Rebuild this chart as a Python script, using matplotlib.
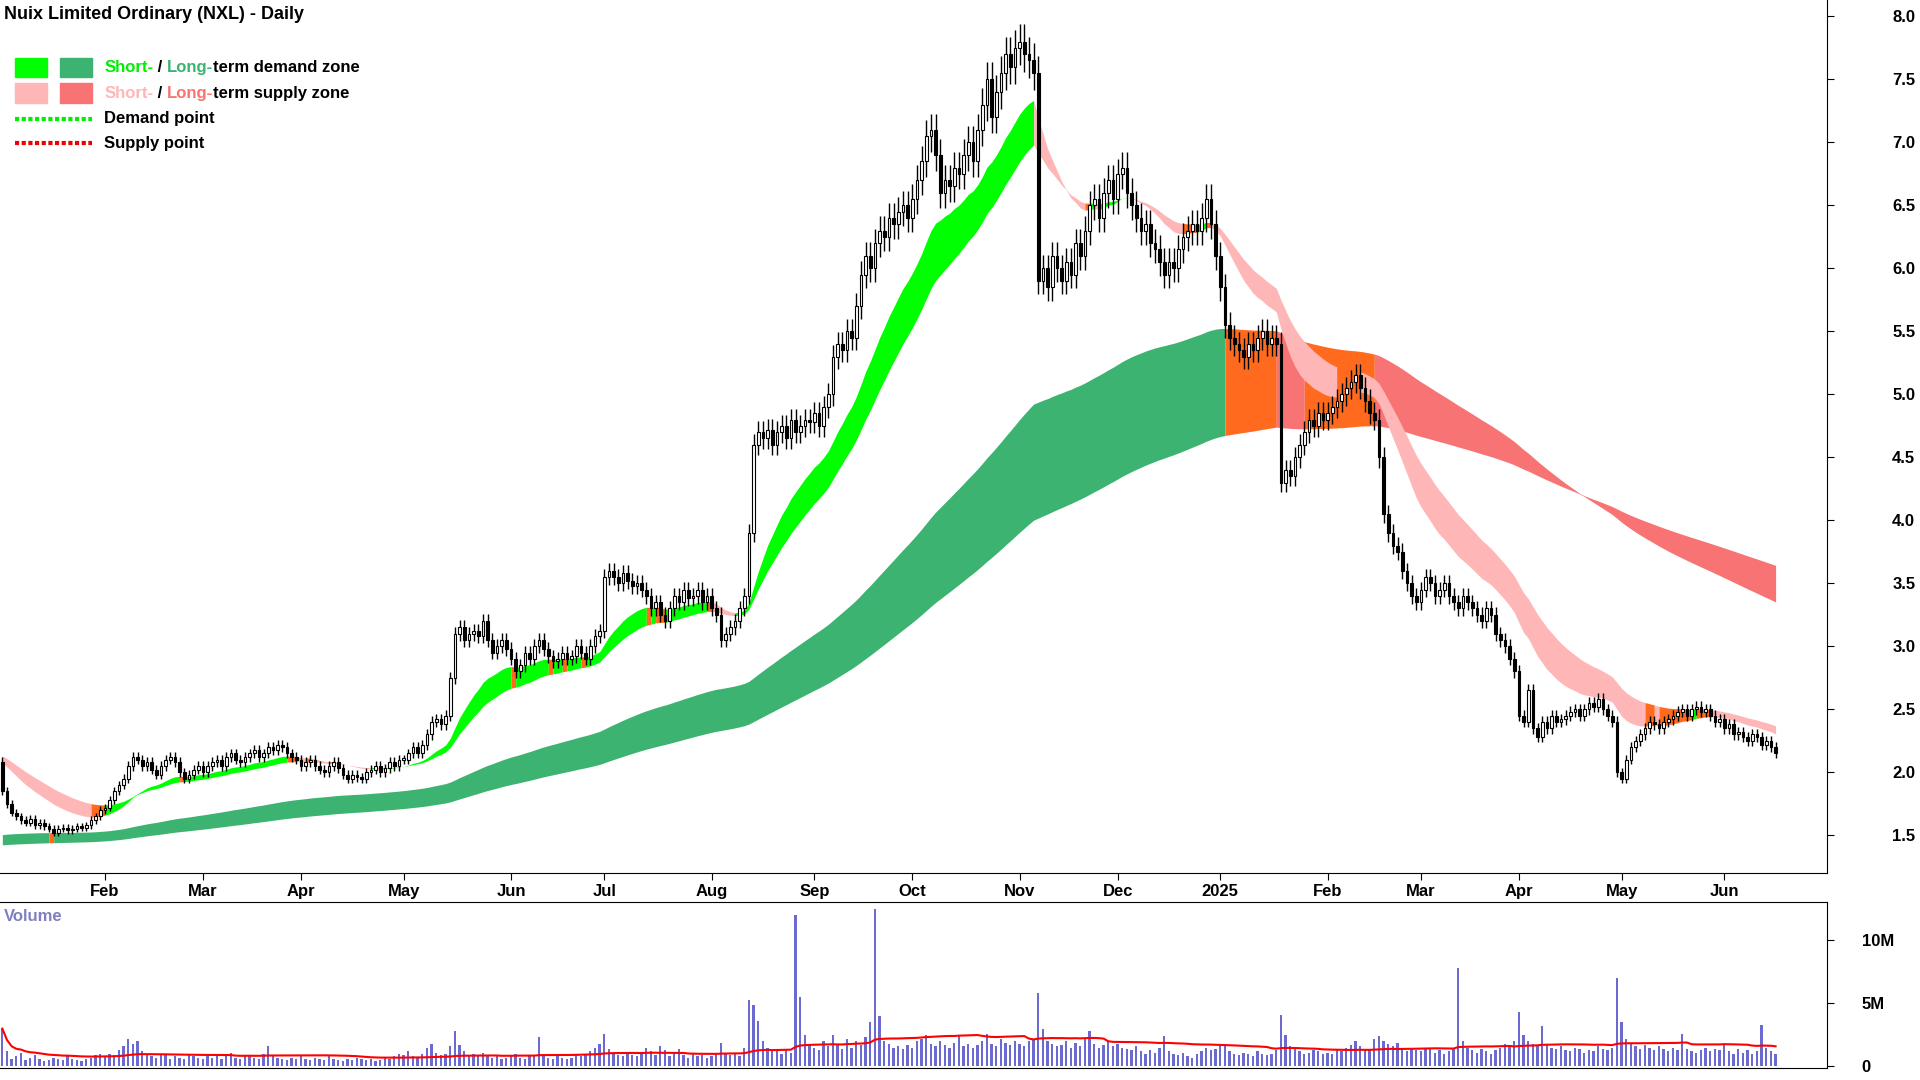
import matplotlib
matplotlib.use("Agg")
import matplotlib.pyplot as plt
import numpy as np
import pandas as pd
from matplotlib.patches import Rectangle
from matplotlib.lines import Line2D

plt.rcParams['font.family'] = ['Liberation Sans', 'DejaVu Sans']

title = "Nuix Limited Ordinary (NXL) - Daily"
closes = [
 # Jan 2024
 1.85,1.75,1.68,1.65,1.62,1.60,1.63,1.58,1.60,1.57,1.55,1.52,1.55,1.56,1.54,1.55,1.57,1.56,1.58,1.62,1.65,1.70,
 # Feb
 1.72,1.78,1.85,1.90,1.95,2.05,2.12,2.10,2.05,2.08,2.02,1.98,2.05,2.10,2.12,2.08,2.00,1.95,1.98,2.02,2.05,
 # Mar
 2.00,2.05,2.08,2.10,2.05,2.12,2.15,2.10,2.08,2.12,2.15,2.18,2.12,2.15,2.20,2.18,2.22,2.20,2.15,2.12,2.10,
 # Apr
 2.05,2.08,2.10,2.05,2.02,2.00,2.05,2.08,2.03,1.98,1.95,1.98,1.96,1.95,2.00,2.02,2.05,2.00,2.03,2.08,2.05,2.10,
 # May
 2.10,2.15,2.20,2.15,2.22,2.30,2.40,2.42,2.38,2.45,2.75,3.10,3.15,3.05,3.10,3.12,3.08,3.20,3.05,2.95,3.00,3.05,2.98,
 # Jun
 2.90,2.80,2.85,2.95,2.90,3.00,3.05,2.98,2.92,2.88,2.90,2.95,2.90,2.92,3.00,2.95,2.90,3.00,3.08,3.12,
 # Jul
 3.55,3.60,3.55,3.50,3.58,3.52,3.48,3.50,3.45,3.40,3.30,3.35,3.25,3.20,3.30,3.40,3.35,3.45,3.38,3.40,3.45,3.35,3.40,
 # Aug
 3.30,3.25,3.05,3.10,3.15,3.20,3.30,3.40,3.90,4.60,4.70,4.65,4.72,4.60,4.70,4.75,4.65,4.80,4.70,4.75,4.80,4.78,
 # Sep
 4.85,4.75,4.90,5.00,5.30,5.40,5.35,5.50,5.45,5.70,5.95,6.10,6.00,6.20,6.30,6.25,6.40,6.35,6.45,6.50,6.40,
 # Oct
 6.55,6.70,6.85,7.05,7.10,6.90,6.60,6.70,6.65,6.80,6.75,6.90,7.00,6.85,7.10,7.30,7.50,7.20,7.40,7.55,7.70,7.60,7.75,
 # Nov
 7.80,7.70,7.65,7.55,5.90,6.00,5.85,6.10,6.00,5.90,6.05,5.95,6.20,6.10,6.30,6.50,6.55,6.40,6.60,6.70,6.55,
 # Dec
 6.75,6.80,6.60,6.50,6.40,6.30,6.35,6.20,6.15,6.05,5.95,6.05,6.00,6.15,6.25,6.30,6.35,6.30,6.40,6.55,6.35,6.10,
 # Jan 2025
 5.85,5.55,5.45,5.40,5.35,5.30,5.40,5.35,5.45,5.50,5.40,5.45,5.40,4.30,4.40,4.35,4.50,4.60,4.70,4.80,4.75,4.85,4.80,
 # Feb
 4.85,4.90,4.95,5.00,5.05,5.10,5.15,5.05,4.95,4.85,4.80,4.50,4.05,3.90,3.80,3.75,3.60,3.50,3.40,3.35,
 # Mar
 3.45,3.55,3.50,3.40,3.45,3.50,3.40,3.35,3.30,3.40,3.35,3.30,3.25,3.20,3.30,3.25,3.10,3.05,3.00,2.90,2.80,
 # Apr
 2.45,2.40,2.65,2.35,2.28,2.40,2.35,2.45,2.40,2.42,2.45,2.48,2.50,2.45,2.50,2.55,2.52,2.58,2.50,2.45,2.40,2.00,
 # May
 1.95,2.10,2.20,2.25,2.30,2.35,2.40,2.38,2.35,2.40,2.42,2.45,2.48,2.50,2.45,2.50,2.52,2.48,2.50,2.45,2.40,2.42,
 # Jun
 2.35,2.38,2.30,2.32,2.28,2.25,2.30,2.28,2.22,2.25,2.20,2.15,
]
first_open = 2.08
volume_m = [
 3.0,1.2,0.6,0.8,1.1,0.5,0.7,0.9,0.6,0.4,0.5,0.7,0.6,0.5,0.8,0.6,0.5,0.4,0.6,0.7,0.9,1.0,
 0.8,1.0,0.9,1.3,1.6,2.2,1.8,2.0,1.2,0.9,0.8,0.7,1.0,0.9,0.6,0.8,0.7,0.6,0.9,0.8,0.7,
 0.6,0.8,0.7,0.9,0.6,0.8,1.1,0.7,0.6,0.9,0.8,0.7,0.6,1.0,1.6,0.8,0.7,0.6,0.5,0.7,0.6,
 0.9,0.6,0.5,0.7,0.6,0.5,0.8,0.6,0.5,0.4,0.6,0.5,0.7,0.6,0.5,0.6,0.4,0.5,0.7,0.6,0.8,1.0,
 0.9,1.2,0.8,0.7,1.0,1.5,1.8,1.1,0.9,1.0,1.6,2.8,1.7,1.2,0.9,1.0,0.8,1.1,0.9,0.7,0.8,0.6,0.7,
 0.8,1.0,0.7,0.6,0.9,0.8,2.3,0.9,0.7,0.6,0.8,0.7,0.6,0.7,0.9,0.8,1.0,1.2,1.5,1.8,
 2.6,1.4,1.0,0.9,0.8,1.1,0.9,0.8,1.0,1.5,1.2,0.9,1.6,1.3,0.8,1.0,1.4,0.9,0.7,1.0,0.8,0.9,0.7,
 0.8,1.0,1.9,1.1,0.9,1.0,0.8,1.5,5.3,4.9,3.6,2.0,1.5,1.2,1.4,1.0,1.3,1.1,12.0,5.5,2.5,1.8,
 1.5,1.3,2.0,1.6,2.5,1.8,1.4,2.2,1.5,2.0,1.7,2.3,3.5,12.5,4.0,2.0,1.8,1.5,1.6,1.4,1.7,
 1.5,2.0,2.2,2.5,1.8,1.6,2.0,1.7,1.5,1.9,2.4,1.6,1.8,1.5,1.7,2.0,2.6,1.8,1.6,2.2,1.9,1.7,2.0,
 1.8,1.6,2.0,2.2,5.8,3.0,2.0,1.8,1.6,1.7,2.0,1.5,1.9,1.6,2.2,2.8,1.8,1.5,1.7,2.0,1.6,
 1.8,1.5,1.4,1.3,1.6,1.2,1.0,1.3,1.1,1.5,2.4,1.2,1.0,0.9,1.1,0.8,0.7,1.0,1.2,1.5,1.3,1.4,
 1.6,1.8,1.2,1.0,0.9,1.1,1.0,0.8,1.2,1.0,0.9,1.0,1.3,4.1,2.5,1.6,1.4,1.2,1.0,1.1,1.3,1.2,1.0,
 1.1,1.0,1.3,1.2,1.5,1.7,2.0,1.6,1.4,1.3,2.2,2.4,2.0,1.8,1.6,1.9,1.4,1.2,1.5,1.3,
 1.2,1.5,1.4,1.1,1.3,1.0,1.2,1.4,7.8,2.0,1.5,1.3,1.1,1.4,1.2,1.0,1.3,1.5,1.8,1.6,2.0,
 4.3,2.5,2.0,1.8,1.6,3.2,1.7,1.5,1.4,1.6,1.3,1.2,1.5,1.4,1.1,1.3,1.2,1.6,1.4,1.3,1.5,7.0,
 3.5,2.2,1.8,1.6,1.4,1.7,1.5,1.3,1.6,1.4,1.2,1.5,1.3,2.6,1.4,1.2,1.1,1.3,1.5,1.2,1.4,1.3,
 1.8,1.2,1.0,1.4,1.1,1.3,1.0,1.2,3.3,1.5,1.2,1.0,
]
price_ticks = [1.5,2.0,2.5,3.0,3.5,4.0,4.5,5.0,5.5,6.0,6.5,7.0,7.5,8.0]
vol_ticks = [0, 5, 10]
vol_tick_labels = ["0", "5M", "10M"]

n = len(closes)
volume_m = (volume_m + [1.0]*n)[:n]
dates = pd.bdate_range("2024-01-02", periods=n)
c = np.array(closes)
o = np.concatenate([[first_open], c[:-1]])
hi = np.maximum(o, c) * 1.018
lo = np.minimum(o, c) * 0.982
x = np.arange(n)

def ema(span, seed):
    vals = []
    prev = seed
    a = 2/(span+1)
    for v in c:
        prev = a*v + (1-a)*prev
        vals.append(prev)
    return np.array(vals)

st1, st2 = ema(19, 2.1), ema(32, 2.15)
lt1, lt2 = ema(135, 1.5), ema(230, 1.42)

W, H = 1568, 882
fig = plt.figure(figsize=(19.2, 10.8), dpi=100)
ax = fig.add_axes([0, 1-713/H, 1492/W, 713/H])
axv = fig.add_axes([0, 1-872/H, 1492/W, (872-737)/H])

def band(a1, a2, cdem, csup, cmix):
    top = np.maximum(a1, a2); bot = np.minimum(a1, a2)
    cols = []
    for i in range(1, n):
        ut = top[i] >= top[i-1]; ub = bot[i] >= bot[i-1]
        cols.append(cdem if (ut and ub) else (csup if (not ut and not ub) else cmix))
    start = 0
    for i in range(1, len(cols)+1):
        if i == len(cols) or cols[i] != cols[start]:
            ax.fill_between(x[start:i+1], bot[start:i+1], top[start:i+1],
                            color=cols[start], lw=0, zorder=1)
            start = i

band(lt1, lt2, '#3CB371', '#F87474', '#FF6A1F')
band(st1, st2, '#00FF00', '#FFB6B6', '#FF6A1F')

for i in range(n):
    ax.vlines(x[i], lo[i], hi[i], color='black', lw=1, zorder=3)
    b0, b1 = min(o[i], c[i]), max(o[i], c[i])
    if b1 - b0 < 0.01:
        b1 = b0 + 0.01
    fc = 'white' if c[i] >= o[i] else 'black'
    ax.add_patch(Rectangle((x[i]-0.3, b0), 0.6, b1-b0, facecolor=fc,
                           edgecolor='black', lw=0.8, zorder=4))

xmax = n - 1 + 11
for a in (ax, axv):
    a.set_xlim(-0.5, xmax)
    for sp in ['left', 'top']:
        a.spines[sp].set_visible(False)
    a.yaxis.tick_right()
ax.set_ylim(1.2, 8.13)
ax.set_yticks(price_ticks)
ax.set_yticklabels([f"{t:.1f}" for t in price_ticks], fontsize=12, fontweight='bold')
ax.tick_params(axis='y', pad=42, length=5)

month_idx, month_lab = [], []
for i in range(1, n):
    if dates[i].month != dates[i-1].month:
        month_idx.append(i)
        month_lab.append("2025" if dates[i].month == 1 else dates[i].strftime("%b"))
ax.set_xticks(month_idx)
ax.set_xticklabels(month_lab, fontsize=12, fontweight='bold')
ax.tick_params(axis='x', length=5, pad=3)

axv.bar(x, volume_m, width=0.5, color='#6A6AD0', zorder=2)
vavg = pd.Series(volume_m).rolling(50, min_periods=1).mean()
axv.plot(x, vavg, color='red', lw=1.5, zorder=3)
axv.set_ylim(-0.1, 13.0)
axv.set_yticks(vol_ticks)
axv.set_yticklabels(vol_tick_labels, fontsize=12, fontweight='bold')
axv.tick_params(axis='y', pad=20, length=5)
axv.set_xticks([])
axv.spines['top'].set_visible(True)
axv.text(0.002, 0.96, "Volume", transform=axv.transAxes, va='top', ha='left',
         fontsize=12, fontweight='bold', color='#8080C0')

fig.text(3/W, 1-12/H, title, fontsize=13, fontweight='bold', va='center', ha='left')

def fx(px): return px/W
def fy(py): return 1-py/H
for (x0, col) in [(12, '#00FF00'), (49, '#3CB371')]:
    fig.patches.append(Rectangle((fx(x0), fy(63)), 26/W, 16/H, color=col, transform=fig.transFigure))
for (x0, col) in [(12, '#FFB6B6'), (49, '#F87474')]:
    fig.patches.append(Rectangle((fx(x0), fy(84)), 26/W, 16/H, color=col, transform=fig.transFigure))
fig.lines.append(Line2D([fx(12), fx(75)], [fy(97)]*2, color='#00EE00', lw=3, ls=(0, (1, 0.6)), transform=fig.transFigure))
fig.lines.append(Line2D([fx(12), fx(75)], [fy(117)]*2, color='#EE0000', lw=3, ls=(0, (1, 0.6)), transform=fig.transFigure))

fig.canvas.draw()
r = fig.canvas.get_renderer()
def chain(py, parts):
    xx = fx(85)
    for txt, col in parts:
        t = fig.text(xx, fy(py), txt, color=col, fontsize=12, fontweight='bold', va='center', ha='left')
        bb = t.get_window_extent(renderer=r)
        xx += bb.width / fig.bbox.width
chain(55, [("Short-", '#00EE00'), (" / ", 'black'), ("Long-", '#3CB371'), ("term demand zone", 'black')])
chain(76, [("Short-", '#FFB6B6'), (" / ", 'black'), ("Long-", '#F87474'), ("term supply zone", 'black')])
chain(97, [("Demand point", 'black')])
chain(117, [("Supply point", 'black')])

fig.savefig("out.png", dpi=100)
